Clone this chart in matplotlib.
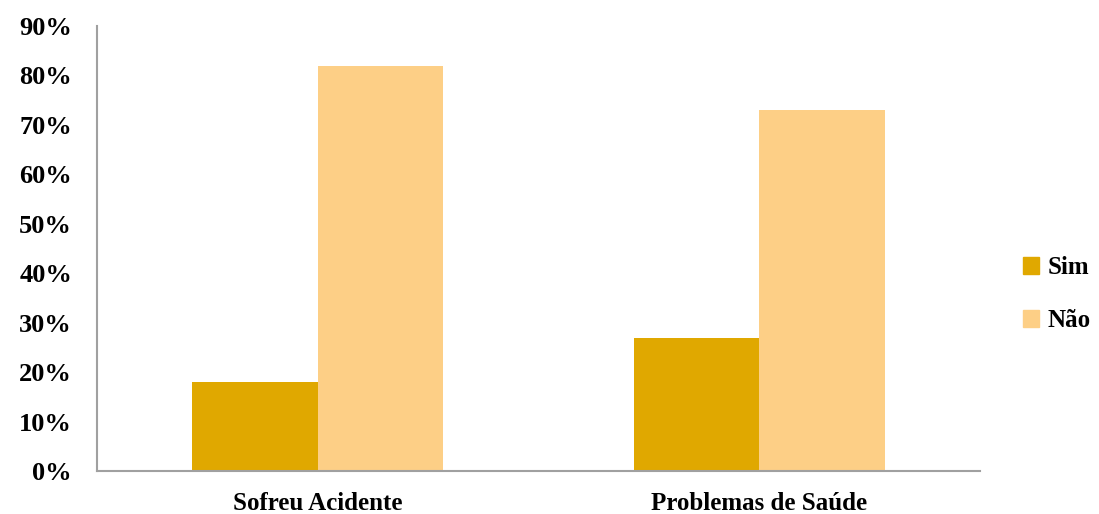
import matplotlib
matplotlib.use("Agg")
import matplotlib.pyplot as plt
import numpy as np
from matplotlib.patches import Patch

categories = ["Sofreu Acidente", "Problemas de Saúde"]
sim = [18, 27]
nao = [82, 73]
series_names = ["Sim", "Não"]
yticks = [0, 10, 20, 30, 40, 50, 60, 70, 80, 90]
ytick_labels = [f"{v}%" for v in yticks]

plt.rcParams['font.family'] = ['Liberation Serif', 'DejaVu Serif']

fig = plt.figure(figsize=(10.99, 5.14), dpi=100)
ax = fig.add_axes([97/1099, 1-471/514, (980-97)/1099, (471-26)/514])

x = np.arange(len(categories))
w = 0.284
c_sim = "#E0A800"
c_nao = "#FDCF86"
ax.bar(x - w/2, sim, w, color=c_sim, label=series_names[0])
ax.bar(x + w/2, nao, w, color=c_nao, label=series_names[1])

ax.set_xlim(-0.5, 1.5)
ax.set_ylim(0, 90)
ax.set_yticks(yticks)
ax.set_yticklabels(ytick_labels, fontsize=19, fontweight='bold')
ax.set_xticks(x)
ax.set_xticklabels(categories, fontsize=18, fontweight='bold')
ax.tick_params(axis='both', length=0)
ax.tick_params(axis='y', pad=18)
ax.tick_params(axis='x', pad=15)
for s in ['top', 'right']:
    ax.spines[s].set_visible(False)
for s in ['left', 'bottom']:
    ax.spines[s].set_color('#A0A0A0')
    ax.spines[s].set_linewidth(1.5)

handles = [Patch(color=c_sim), Patch(color=c_nao)]
fig.legend(handles, series_names, loc='center left', bbox_to_anchor=(1023/1099, 1-294/514),
           frameon=False, prop={'size': 18, 'weight': 'bold'},
           handlelength=0.65, handleheight=0.65, handletextpad=0.35, labelspacing=1.2,
           borderpad=0.0, borderaxespad=0.0)

fig.savefig("out.png", dpi=100)
